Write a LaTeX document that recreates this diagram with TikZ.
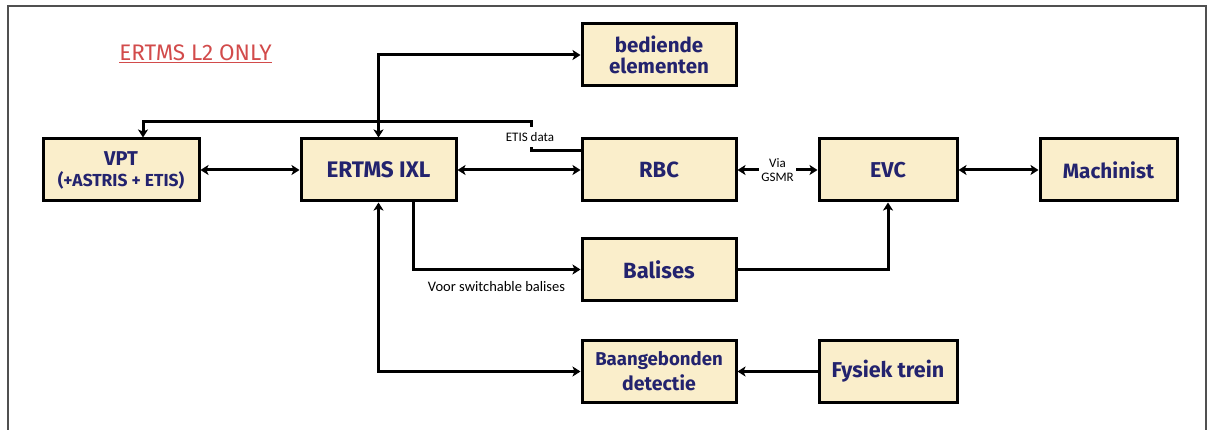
\documentclass[tikz,border=0pt]{standalone}
\usepackage{fontspec}
\setmainfont{Fira Sans}
\newfontfamily\lblfont{Carlito}
\usetikzlibrary{arrows.meta}
\definecolor{boxfill}{RGB}{250,238,203}
\definecolor{navy}{RGB}{35,35,110}
\definecolor{titlered}{RGB}{210,75,75}
\definecolor{framegray}{RGB}{80,80,80}
\newcommand{\bx}[1]{\bfseries\fontsize{#1}{#1}\selectfont}
\tikzset{
  box/.style={draw=black, line width=3pt, fill=boxfill, text=navy, align=center,
    inner sep=0pt, minimum width=154pt, minimum height=62pt},
  conn/.style={line width=3pt, -{Stealth[length=8pt,width=10pt,inset=2pt]}},
  bconn/.style={line width=3pt, {Stealth[length=8pt,width=10pt,inset=2pt]}-{Stealth[length=8pt,width=10pt,inset=2pt]}},
  plain/.style={line width=3pt},
  lbl/.style={font=\lblfont\fontsize{13}{14}\selectfont, text=black, inner sep=1pt, align=center}
}
\begin{document}
\begin{tikzpicture}[x=1pt,y=-1pt]
\useasboundingbox (0,0) rectangle (1208,430);
\fill[white] (0,0) rectangle (1208,430);
\draw[framegray, line width=2pt] (8,440) -- (8,6) -- (1206,6) -- (1206,440);

\node[text=titlered, font=\fontsize{22.5}{23}\selectfont] (title) at (195.5,54) {\underline{ERTMS L2 ONLY}};

\node[box] (bed) at (659,55) {\bx{20.5}bediende\\[4pt]\bx{20.5}elementen};
\node[box, minimum width=156pt] (vpt) at (121,170) {\bx{20}VPT\\[5pt]\bx{17.4}(+ASTRIS + ETIS)};
\node[box, minimum width=155pt] (ixl) at (378.5,170) {\bx{22.5}ERTMS IXL};
\node[box] (rbc) at (659,170) {\bx{22}RBC};
\node[box, minimum width=138pt] (evc) at (888,170) {\bx{21.5}EVC};
\node[box, minimum width=137pt] (mach) at (1108.5,170) {\bx{20.7}Machinist};
\node[box] (bal) at (659,269.5) {\bx{22}Balises};
\node[box] (baan) at (659,371.5) {\bx{18.6}Baangebonden\\[4pt]\bx{19.5}detectie};
\node[box, minimum width=138pt] (fys) at (888,371.5) {\bx{21.5}Fysiek trein};

\draw[bconn] (vpt) -- (ixl);
\draw[bconn] (ixl) -- (rbc);
\draw[bconn] (rbc) -- node[lbl, fill=white, inner sep=2pt] (via) {Via\\GSMR} (evc);
\draw[bconn] (evc) -- (mach);
\draw[bconn] (ixl.north) |- (bed.west);
\draw[bconn] (ixl.south) |- (baan.west);
\draw[conn] ([xshift=34.5pt]ixl.south) |- (bal.west);
\draw[conn] (bal.east) -| (evc.south);
\draw[conn] (fys) -- (baan);

\coordinate (etisR) at (531,151);
\coordinate (etisT) at (531,127);
\draw[plain] (etisR -| rbc.west) -- (etisR) -- ++(0,-4);
\draw[conn] (etisT) -- (531,122) -| ([xshift=22pt]vpt.north);
\node[lbl] (etis) at (530,137) {ETIS data};
\node[lbl, font=\lblfont\fontsize{14.5}{15}\selectfont] (voor) at (496.5,287) {Voor switchable balises};
\end{tikzpicture}
\end{document}
